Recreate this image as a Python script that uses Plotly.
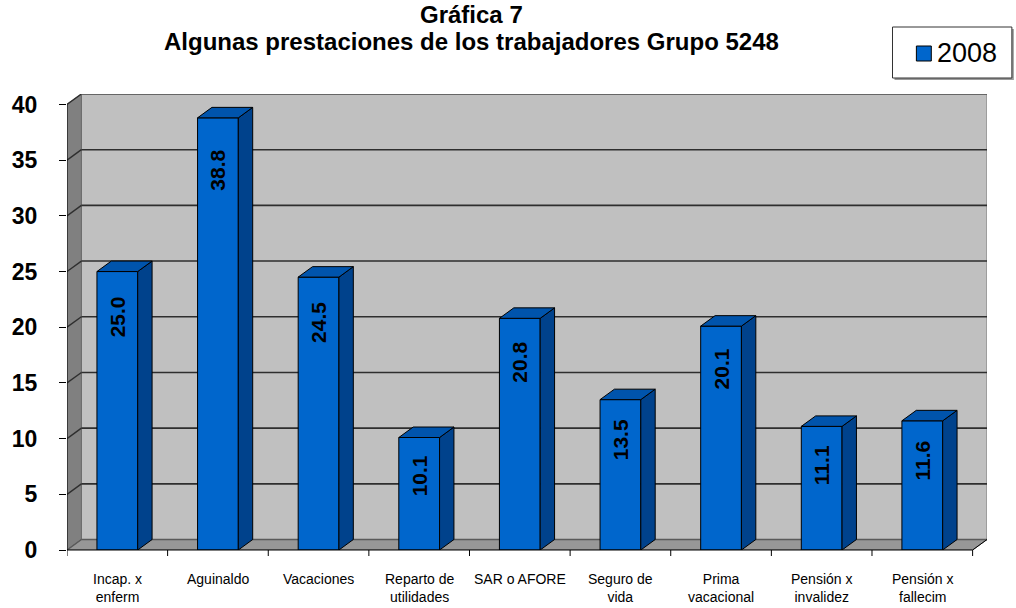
import plotly.graph_objects as go

# ---------------- data ----------------
categories = ["Incap. x<br>enferm", "Aguinaldo", "Vacaciones", "Reparto de<br>utilidades",
              "SAR o AFORE", "Seguro de<br>vida", "Prima<br>vacacional",
              "Pensión x<br>invalidez", "Pensión x<br>fallecim"]
values = [25.0, 38.8, 24.5, 10.1, 20.8, 13.5, 20.1, 11.1, 11.6]
series_name = "2008"
y_ticks = [0, 5, 10, 15, 20, 25, 30, 35, 40]
title_lines = ["Gráfica 7", "Algunas prestaciones de los trabajadores Grupo 5248"]

# ---------------- style ----------------
FONT = "Liberation Sans, Arial, sans-serif"
W, H = 1016, 608
ML, MR, MT, MB = 62, 29, 94, 58
PW, PH = W - ML - MR, H - MT - MB
YMAX = max(y_ticks)
DX = 0.143      # depth offset in category units
DY = 0.94       # depth offset in value units
BW = 0.405      # bar width
n = len(categories)
XMIN, XMAX = -0.5, n - 0.5

FRONT = "#0066CC"
SIDE = "#00428C"
TOP = "#0054AC"
WALL = "#C0C0C0"
SIDEWALL = "#808080"
FLOOR = "#979797"
GRID = "#2E2E2E"


def px2x(px):
    return (px - ML) / PW


def px2y(py):
    return (H - MB - py) / PH


fig = go.Figure()

# front faces of the bars
fig.add_trace(go.Bar(
    x=list(range(n)), y=values, width=BW,
    marker=dict(color=FRONT, line=dict(color="black", width=1)),
    showlegend=False, hoverinfo="skip",
))

shapes = []
# back wall
shapes.append(dict(type="rect", xref="x", yref="y", layer="below",
                   x0=XMIN + DX, x1=XMAX + DX, y0=DY, y1=YMAX + DY,
                   fillcolor=WALL, line=dict(color="#7A7A7A", width=1)))
# side wall
shapes.append(dict(type="path", xref="x", yref="y", layer="below",
                   path=f"M {XMIN},0 L {XMIN + DX},{DY} L {XMIN + DX},{YMAX + DY} L {XMIN},{YMAX} Z",
                   fillcolor=SIDEWALL, line=dict(color="#6A6A6A", width=1)))
# floor
shapes.append(dict(type="path", xref="x", yref="y", layer="below",
                   path=f"M {XMIN},0 L {XMAX},0 L {XMAX + DX},{DY} L {XMIN + DX},{DY} Z",
                   fillcolor=FLOOR, line=dict(color="#6A6A6A", width=1)))
# gridlines (back wall + diagonal on the side wall)
for v in y_ticks:
    col = GRID if v > 0 else "#5A5A5A"
    if v < YMAX:
        shapes.append(dict(type="line", xref="x", yref="y", layer="below",
                           x0=XMIN + DX, x1=XMAX + DX, y0=v + DY, y1=v + DY,
                           line=dict(color=col, width=1.6)))
    shapes.append(dict(type="line", xref="x", yref="y", layer="below",
                       x0=XMIN, x1=XMIN + DX, y0=v, y1=v + DY,
                       line=dict(color=col, width=1.4)))
# top edge of wall
shapes.append(dict(type="line", xref="x", yref="y", layer="below",
                   x0=XMIN + DX, x1=XMAX + DX, y0=YMAX + DY, y1=YMAX + DY,
                   line=dict(color="#555555", width=1.6)))

# bar side and top faces
for k, v in enumerate(values):
    xl, xr = k - BW / 2, k + BW / 2
    shapes.append(dict(type="path", xref="x", yref="y", layer="above",
                       path=f"M {xr},0 L {xr + DX},{DY} L {xr + DX},{v + DY} L {xr},{v} Z",
                       fillcolor=SIDE, line=dict(color="black", width=1)))
    shapes.append(dict(type="path", xref="x", yref="y", layer="above",
                       path=f"M {xl},{v} L {xr},{v} L {xr + DX},{v + DY} L {xl + DX},{v + DY} Z",
                       fillcolor=TOP, line=dict(color="black", width=1)))

# front axes
shapes.append(dict(type="line", xref="x", yref="y", x0=XMIN, x1=XMIN, y0=0, y1=YMAX,
                   line=dict(color="black", width=1)))
shapes.append(dict(type="line", xref="x", yref="paper", x0=XMIN, x1=XMAX, y0=0, y1=0,
                   line=dict(color="black", width=1)))
shapes.append(dict(type="line", xref="x", yref="y", x0=XMAX, x1=XMAX + DX, y0=0, y1=DY,
                   line=dict(color="black", width=1)))
# category boundary ticks
for k in range(n + 1):
    shapes.append(dict(type="line", xref="x", yref="paper", x0=k - 0.5, x1=k - 0.5,
                       y0=0, y1=-6 / PH, line=dict(color="black", width=1)))

# legend box
shapes.append(dict(type="rect", xref="paper", yref="paper",
                   x0=px2x(894), x1=px2x(1014), y0=px2y(80), y1=px2y(29),
                   fillcolor="#9A9A9A", line=dict(width=0)))
shapes.append(dict(type="rect", xref="paper", yref="paper",
                   x0=px2x(892), x1=px2x(1012), y0=px2y(78), y1=px2y(27),
                   fillcolor="white", line=dict(color="#333333", width=1)))
shapes.append(dict(type="rect", xref="paper", yref="paper",
                   x0=px2x(916), x1=px2x(931), y0=px2y(61), y1=px2y(46),
                   fillcolor=FRONT, line=dict(color="black", width=1)))

annotations = []
# bar value labels (rotated, inside near top)
for k, v in enumerate(values):
    annotations.append(dict(x=k, y=v, xref="x", yref="y", text=f"{v:.1f}",
                            textangle=-90, showarrow=False, xanchor="center", yanchor="middle",
                            yshift=-(34 + 0.46 * v),
                            font=dict(family=FONT, size=21, color="black", weight="bold")))
# category labels
for k, c in enumerate(categories):
    annotations.append(dict(x=k, y=0, xref="x", yref="paper", text=c, showarrow=False,
                            xanchor="center", yanchor="top", yshift=-19,
                            font=dict(family=FONT, size=14, color="black")))
# title
annotations.append(dict(x=px2x(469), y=px2y(15), xref="paper", yref="paper", text=title_lines[0],
                        showarrow=False, xanchor="center", yanchor="middle",
                        font=dict(family=FONT, size=24, color="black", weight="bold")))
annotations.append(dict(x=px2x(469), y=px2y(41), xref="paper", yref="paper", text=title_lines[1],
                        showarrow=False, xanchor="center", yanchor="middle",
                        font=dict(family=FONT, size=24, color="black", weight="bold")))
# legend text
annotations.append(dict(x=px2x(935), y=px2y(53), xref="paper", yref="paper", text=series_name,
                        showarrow=False, xanchor="left", yanchor="middle",
                        font=dict(family=FONT, size=27, color="black")))

fig.update_layout(
    width=W, height=H, autosize=False,
    margin=dict(l=ML, r=MR, t=MT, b=MB, pad=0),
    paper_bgcolor="white", plot_bgcolor="white",
    showlegend=False,
    shapes=shapes, annotations=annotations,
    xaxis=dict(range=[XMIN, XMAX + DX], showgrid=False, zeroline=False, showline=False,
               showticklabels=False, ticks="", fixedrange=True),
    yaxis=dict(range=[0, YMAX + DY], tickvals=y_ticks, ticktext=[str(t) for t in y_ticks],
               showgrid=False, zeroline=False, showline=False,
               ticks="outside", ticklen=7, tickwidth=1, tickcolor="black",
               ticklabelstandoff=17,
               tickfont=dict(family=FONT, size=23, color="black", weight="bold"),
               fixedrange=True),
    font=dict(family=FONT),
)

fig.write_html("out.html", config={"displayModeBar": False},
               post_script="document.body.style.margin='0';document.body.style.overflow='hidden';")
